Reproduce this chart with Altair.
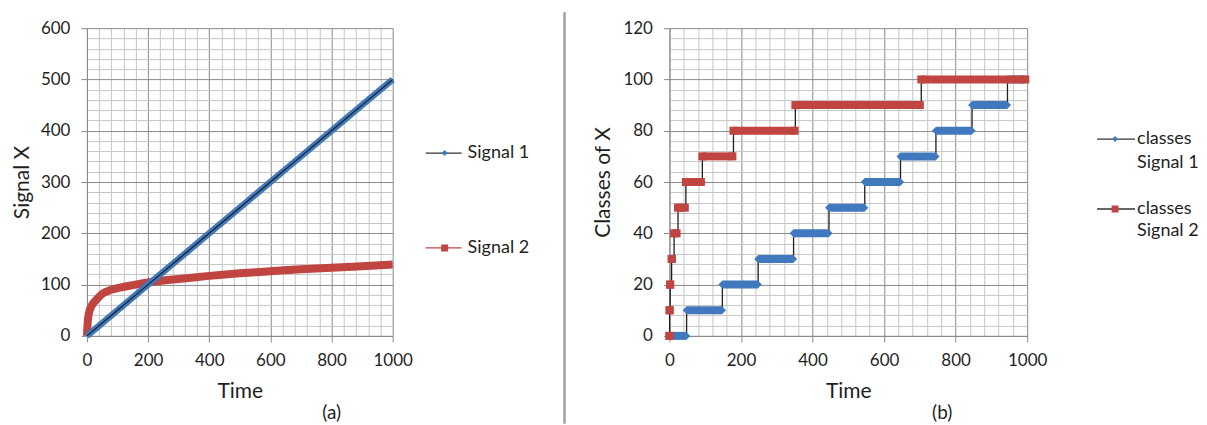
import altair as alt
import pandas as pd

FONT = "Lato"
BLUE = "#4179BF"
RED = "#C0443F"
MAJOR = "#8a8a8a"
MINOR = "#c6c6c6"
INK = "#1f1f1f"

# ---------- panel (a) data ----------
sig1_t = [0, 100, 200, 300, 400, 500, 600, 700, 800, 900, 1000]
sig1_x = [0, 50, 100, 150, 200, 250, 300, 350, 400, 450, 500]
sig2_t = [0, 1, 2, 3, 5, 8, 12, 20, 30, 50, 75, 100, 150, 200, 250, 300,
          400, 500, 600, 700, 800, 900, 1000]
sig2_x = [0, 12, 22, 30, 40, 48, 55, 63, 70, 82, 89, 93, 99, 104, 108, 111,
          117, 122, 126, 130, 133, 136, 139]

# ---------- panel (b) data ----------
cls1_class = [0, 10, 20, 30, 40, 50, 60, 70, 80, 90, 100]
cls1_start = [0, 48, 148, 248, 347, 446, 546, 646, 745, 846, 945]
cls1_end = [47, 147, 247, 346, 445, 545, 645, 744, 845, 944, 990]
cls2_class = [0, 10, 20, 30, 40, 50, 60, 70, 80, 90, 100]
cls2_start = [0, 0.5, 2, 6, 13, 24, 46, 92, 179, 352, 704]
cls2_end = [0, 0.5, 2, 7, 20, 43, 88, 176, 350, 700, 995]

# tick grids
a_x_ticks = list(range(0, 1001, 40))
a_y_ticks = list(range(0, 601, 20))
b_x_ticks = list(range(0, 1001, 40))
b_y_ticks = list(range(0, 121, 4))

W_A, W_B, H = 306, 358, 308


def axis(title, values, major, orient, title_pad, label_pad):
    test = f"datum.value % {major} === 0"
    return alt.Axis(
        title=title, values=values, orient=orient, tickCount=500, format="d",
        labelExpr=f"{test} ? datum.label : ''",
        labelOverlap=False, labelFlush=False,
        gridColor={"condition": {"test": test, "value": MAJOR}, "value": MINOR},
        tickOpacity={"condition": {"test": test, "value": 1}, "value": 0},
        tickSize=6, tickColor=MAJOR, domainColor=MAJOR,
        labelPadding=label_pad, titlePadding=title_pad,
    )


one = pd.DataFrame({"k": [0]})

# ---------------- panel (a) ----------------
df1 = pd.DataFrame({"t": sig1_t, "x": sig1_x})
df2 = pd.DataFrame({"t": sig2_t, "x": sig2_x})

xa = alt.X("t:Q", scale=alt.Scale(domain=[0, 1000], nice=False),
           axis=axis("Time", a_x_ticks, 200, "bottom", 12, 11))
ya = alt.Y("x:Q", scale=alt.Scale(domain=[0, 600], nice=False),
           axis=axis("Signal X", a_y_ticks, 100, "left", 8, 11))

a_red = alt.Chart(df2).mark_line(color=RED, strokeWidth=8, strokeCap="butt",
                                 interpolate="monotone").encode(x=xa, y=ya)
a_blue = alt.Chart(df1).mark_line(color=BLUE, strokeWidth=6.5).encode(x="t:Q", y="x:Q")
a_black = alt.Chart(df1).mark_line(color=INK, strokeWidth=1.2).encode(x="t:Q", y="x:Q")


def txt(s, x, y, size=18, align="left"):
    return alt.Chart(one).mark_text(text=s, font=FONT, fontSize=size, color=INK,
                                    align=align, baseline="middle").encode(
        x=alt.value(x), y=alt.value(y))


def lrule(x1, x2, y, color):
    return alt.Chart(one).mark_rule(color=color, strokeWidth=1.3).encode(
        x=alt.value(x1), x2=alt.value(x2), y=alt.value(y))


def lmark(x, y, shape, color, size):
    return alt.Chart(one).mark_point(shape=shape, filled=True, opacity=1,
                                     color=color, size=size).encode(
        x=alt.value(x), y=alt.value(y))


sep = alt.Chart(one).mark_rule(color="#a0a0a0", strokeWidth=2.5).encode(
    x=alt.value(478), y=alt.value(-16), y2=alt.value(396))

left = alt.layer(
    a_red, a_blue, a_black,
    lrule(339, 375, 125, "#333333"), lmark(358, 125, "diamond", BLUE, 36),
    txt("Signal 1", 381, 125),
    lrule(339, 375, 220, RED), lmark(358, 220, "square", RED, 49),
    txt("Signal 2", 381, 220),
    txt("(a)", 245, 385, 19, "center"),
    sep,
).properties(width=W_A, height=H)

# ---------------- panel (b) ----------------
def seg_frame(cls, start, end, name):
    rows = []
    for i, (c, s, e) in enumerate(zip(cls, start, end)):
        rows.append({"seg": f"{name}{i}", "t": s, "c": c})
        rows.append({"seg": f"{name}{i}", "t": e, "c": c})
    return pd.DataFrame(rows)


def step_frame(cls, start, end):
    ts = list(start) + [end[-1]]
    cs = list(cls) + [cls[-1]]
    return pd.DataFrame({"t": ts, "c": cs})


s1 = seg_frame(cls1_class, cls1_start, cls1_end, "a")
s2 = seg_frame(cls2_class, cls2_start, cls2_end, "b")
st1 = step_frame(cls1_class, cls1_start, cls1_end)
st2 = step_frame(cls2_class, cls2_start, cls2_end)

xb = alt.X("t:Q", scale=alt.Scale(domain=[0, 1000], nice=False),
           axis=axis("Time", b_x_ticks, 200, "bottom", 12, 11))
yb = alt.Y("c:Q", scale=alt.Scale(domain=[0, 120], nice=False),
           axis=axis("Classes of X", b_y_ticks, 20, "left", 9, 11))

b_step1 = alt.Chart(st1).mark_line(color=INK, strokeWidth=1.3, interpolate="step-after").encode(x=xb, y=yb)
b_step2 = alt.Chart(st2).mark_line(color=INK, strokeWidth=1.3, interpolate="step-after").encode(x="t:Q", y="c:Q")
b_bar1 = alt.Chart(s1).mark_line(color=BLUE, strokeWidth=8, strokeCap="butt").encode(
    x="t:Q", y="c:Q", detail="seg:N")
b_pt1 = alt.Chart(s1).mark_point(shape="diamond", filled=True, opacity=1, color=BLUE, size=64).encode(
    x="t:Q", y="c:Q")
b_bar2 = alt.Chart(s2).mark_line(color=RED, strokeWidth=8, strokeCap="butt").encode(
    x="t:Q", y="c:Q", detail="seg:N")
b_pt2 = alt.Chart(s2).mark_point(shape="square", filled=True, opacity=1, color=RED, size=64).encode(
    x="t:Q", y="c:Q")

right = alt.layer(
    b_step1, b_step2, b_bar1, b_pt1, b_bar2, b_pt2,
    lrule(428, 466, 111, "#333333"), lmark(446, 111, "diamond", BLUE, 36),
    txt("classes", 468, 111), txt("Signal 1", 468, 135),
    lrule(428, 466, 181, "#333333"), lmark(446, 181, "square", RED, 49),
    txt("classes", 468, 181), txt("Signal 2", 468, 203),
    txt("(b)", 273, 385, 19, "center"),
).properties(width=W_B, height=H)

chart = alt.hconcat(left, right, spacing=277, bounds="flush").properties(
    padding={"left": 3, "top": 2, "right": 0, "bottom": 0}
).configure_view(strokeWidth=0).configure_axis(
    labelFont=FONT, titleFont=FONT, labelFontSize=17, titleFontSize=21,
    titleFontWeight="normal", labelColor=INK, titleColor=INK,
).configure_text(font=FONT)

chart.save("out.html", embed_options={"renderer": "svg", "actions": False})
